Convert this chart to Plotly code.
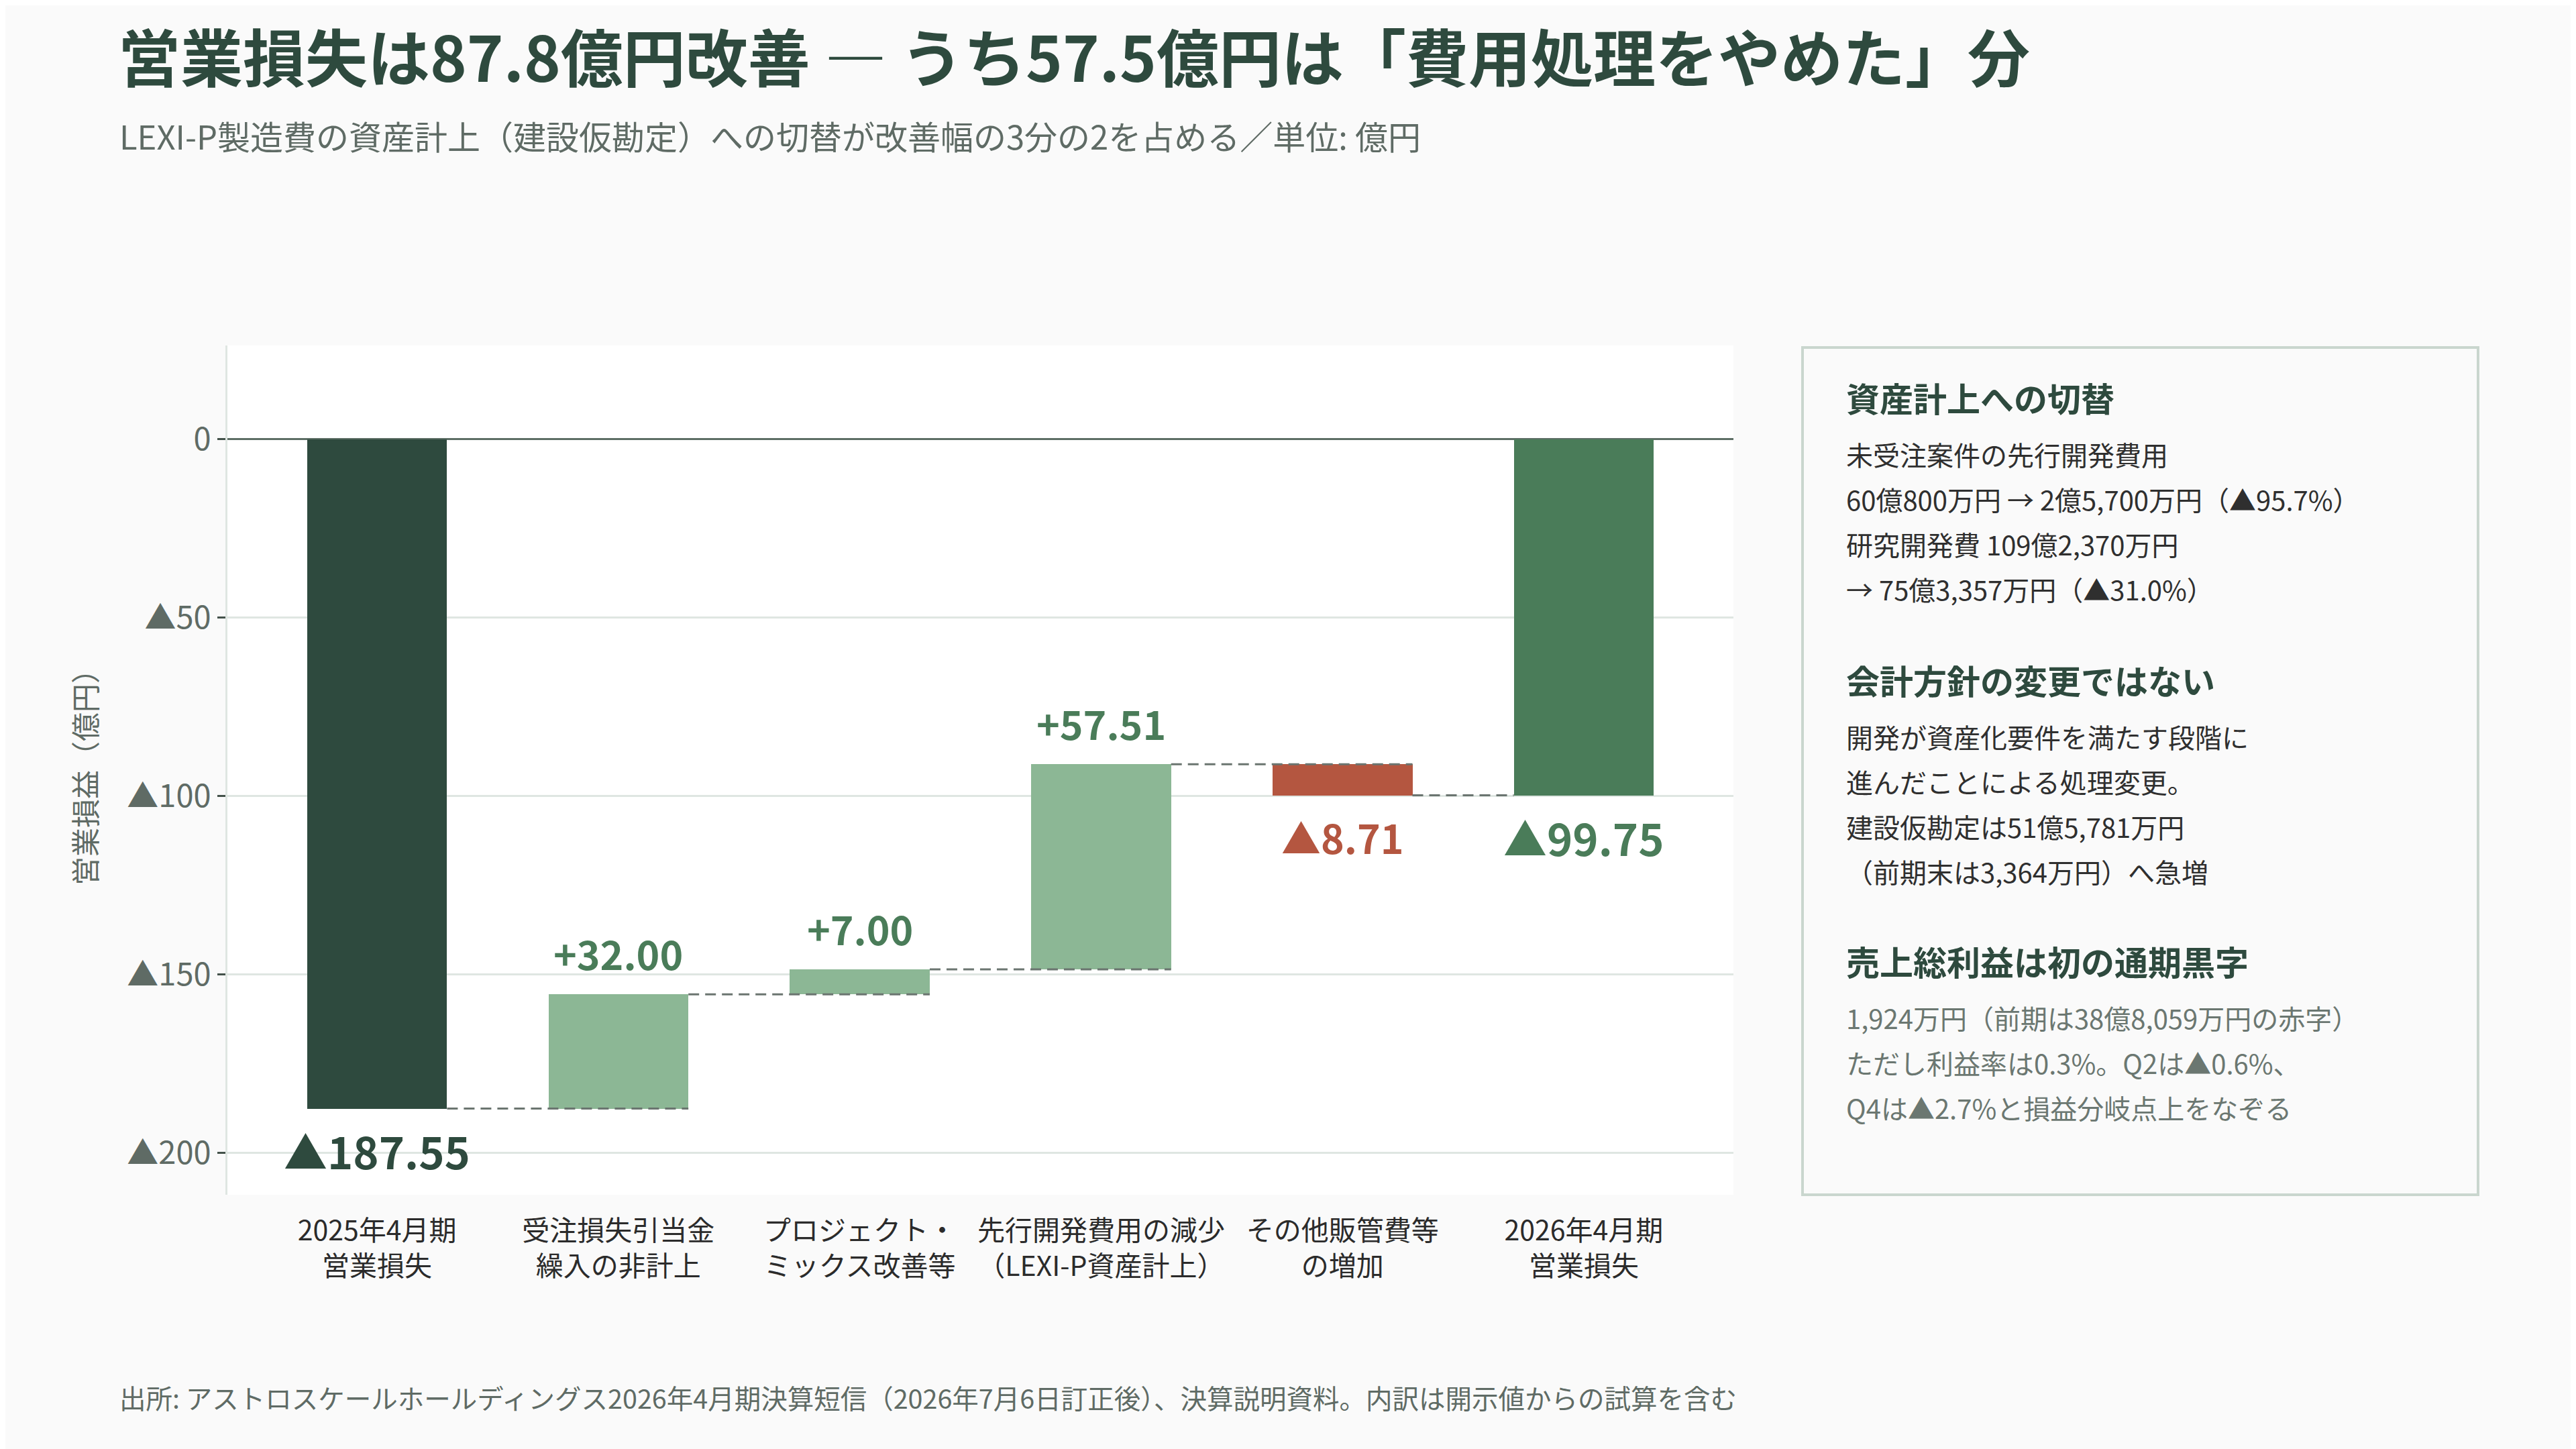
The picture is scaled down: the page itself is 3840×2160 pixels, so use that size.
import plotly.graph_objects as go

FONT = "Noto Sans CJK JP"

# data
categories = ["2025年4月期<br>営業損失", "受注損失引当金<br>繰入の非計上", "プロジェクト・<br>ミックス改善等",
              "先行開発費用の減少<br>（LEXI-P資産計上）", "その他販管費等<br>の増加", "2026年4月期<br>営業損失"]
measures = ["absolute", "relative", "relative", "relative", "relative", "total"]
values = [-187.55, 32.00, 7.00, 57.51, -8.71, -99.75]
value_labels = ["▲187.55", "+32.00", "+7.00", "+57.51", "▲8.71", "▲99.75"]
bar_colors = ["#2e4a3e", "#8cb795", "#8cb795", "#8cb795", "#b45640", "#4a7c59"]
label_colors = ["#2e4a3e", "#4a7c59", "#4a7c59", "#4a7c59", "#b45640", "#4a7c59"]
label_sizes = [65, 59, 59, 59, 59, 65]

y_tickvals = [0, -50, -100, -150, -200]
y_ticktext = ["0", "▲50", "▲100", "▲150", "▲200"]

title = "営業損失は87.8億円改善 ― うち57.5億円は「費用処理をやめた」分"
subtitle = "LEXI-P製造費の資産計上（建設仮勘定）への切替が改善幅の3分の2を占める／単位: 億円"
source = "出所: アストロスケールホールディングス2026年4月期決算短信（2026年7月6日訂正後）、決算説明資料。内訳は開示値からの試算を含む"

panel_heads = ["資産計上への切替", "会計方針の変更ではない", "売上総利益は初の通期黒字"]
panel_body = [
    ["未受注案件の先行開発費用", "60億800万円 → 2億5,700万円（▲95.7%）",
     "研究開発費 109億2,370万円", "→ 75億3,357万円（▲31.0%）"],
    ["開発が資産化要件を満たす段階に", "進んだことによる処理変更。",
     "建設仮勘定は51億5,781万円", "（前期末は3,364万円）へ急増"],
    ["1,924万円（前期は38億8,059万円の赤字）", "ただし利益率は0.3%。Q2は▲0.6%、",
     "Q4は▲2.7%と損益分岐点上をなぞる"],
]
panel_body_colors = ["#2f2f2f", "#2f2f2f", "#6b7771"]

# layout in screen pixels (page body has an 8px margin)
W, H = 3840, 2160
OFF = 8
L, R, T, B = 339, 2584, 515, 1781
def px_x(p):
    return (p - L) / (R - L)
def px_y(p):
    return (B - p) / (B - T)

# waterfall bases
bases, heights = [], []
running = 0
for m, v in zip(measures, values):
    if m == "relative":
        bases.append(running)
        running += v
    else:
        bases.append(0)
        running = v
    heights.append(v)

xs = list(range(len(categories)))
bw = 0.58

fig = go.Figure()
fig.add_trace(go.Bar(x=xs, y=heights, base=bases, width=bw,
                     marker=dict(color=bar_colors, line=dict(width=0)),
                     hoverinfo="skip", showlegend=False))

# dashed connectors
cx, cy = [], []
for i in range(len(xs) - 1):
    level = bases[i] + heights[i]
    x_end = xs[i + 1] + bw / 2 if measures[i + 1] == "relative" else xs[i + 1] - bw / 2
    cx += [xs[i] + bw / 2, x_end, None]
    cy += [level, level, None]
fig.add_trace(go.Scatter(x=cx, y=cy, mode="lines", hoverinfo="skip", showlegend=False,
                         line=dict(color="#6b7570", width=3, dash="16px,9px")))

annotations = []
for i in xs:
    end = bases[i] + heights[i]
    annotations.append(dict(x=xs[i], y=end, xref="x", yref="y", showarrow=False,
                            text="<b>" + value_labels[i] + "</b>", yanchor="middle",
                            yshift=62 if heights[i] > 0 and measures[i] == "relative" else -62,
                            font=dict(size=label_sizes[i], color=label_colors[i], family=FONT)))

annotations.append(dict(x=px_x(176), y=px_y(201), xref="paper", yref="paper", showarrow=False,
                        text=subtitle, xanchor="left", yanchor="middle",
                        font=dict(size=49, color="#5f6b65", family=FONT)))
annotations.append(dict(x=px_x(176), y=px_y(2082), xref="paper", yref="paper", showarrow=False,
                        text=source, xanchor="left", yanchor="middle",
                        font=dict(size=39.5, color="#5f6b65", family=FONT)))

# side panel
head_y = [592, 1013, 1432]
for s in range(3):
    annotations.append(dict(x=px_x(2750), y=px_y(head_y[s]), xref="paper", yref="paper",
                            showarrow=False, text="<b>" + panel_heads[s] + "</b>",
                            xanchor="left", yanchor="middle",
                            font=dict(size=50, color="#2e4a3e", family=FONT)))
    for k, line in enumerate(panel_body[s]):
        annotations.append(dict(x=px_x(2750), y=px_y(head_y[s] + 85 + 67 * k), xref="paper",
                                yref="paper", showarrow=False, text=line,
                                xanchor="left", yanchor="middle",
                                font=dict(size=40, color=panel_body_colors[s], family=FONT)))

fig.update_layout(
    width=W, height=H,
    margin=dict(l=L - OFF, r=W - R + OFF, t=T - OFF, b=H - B + OFF),
    paper_bgcolor="#fafafa", plot_bgcolor="#ffffff",
    font=dict(family=FONT),
    title=dict(text="<b>" + title + "</b>", x=(176 - OFF) / W, xref="container", xanchor="left",
               y=1 - (89 - OFF) / H, yref="container", yanchor="middle",
               font=dict(size=93, color="#2e4a3e", family=FONT)),
    bargap=0,
    annotations=annotations,
    shapes=[dict(type="rect", xref="paper", yref="paper",
                 x0=px_x(2687), x1=px_x(3694), y0=px_y(518), y1=px_y(1781),
                 line=dict(color="#c9d6ce", width=4), fillcolor="#fafafa", layer="below")],
)
fig.update_xaxes(range=[-0.62, 5.62], tickvals=xs, ticktext=categories, showgrid=False,
                 zeroline=False, showline=False, ticks="", ticklabelstandoff=26,
                 tickfont=dict(size=41, color="#2b2b2b", family=FONT))
fig.update_yaxes(range=[-211.7, 26.3], tickvals=y_tickvals, ticktext=y_ticktext,
                 showgrid=True, gridcolor="#dfe6e2", gridwidth=3,
                 zeroline=True, zerolinecolor="#5d6e65", zerolinewidth=3,
                 showline=True, linecolor="#dfe6e2", linewidth=3,
                 ticks="outside", ticklen=12, tickwidth=3, tickcolor="#44524a",
                 tickfont=dict(size=47, color="#5f6b65", family=FONT),
                 title=dict(text="営業損益（億円）", standoff=32,
                            font=dict(size=43, color="#5f6b65", family=FONT)))

fig.write_html("out.html")
